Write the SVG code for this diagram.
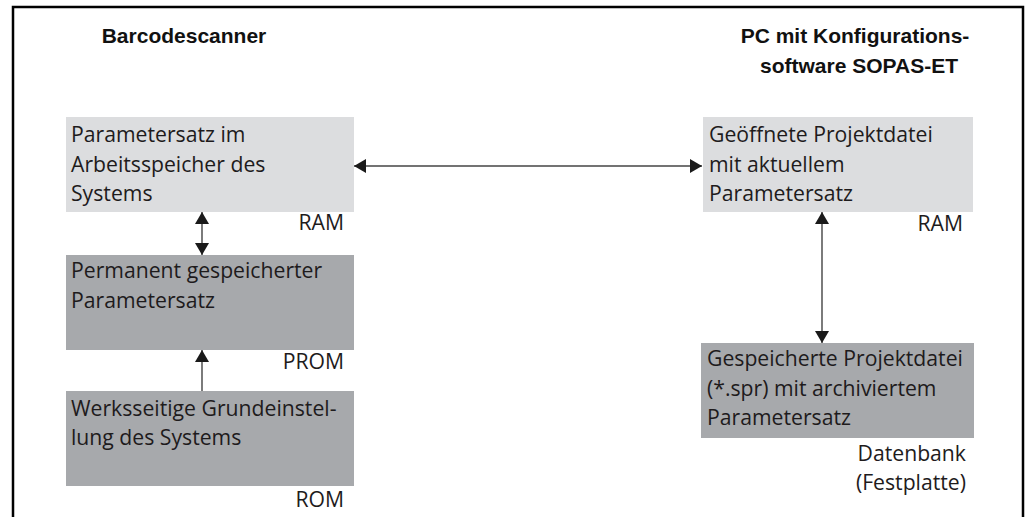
<svg xmlns="http://www.w3.org/2000/svg" width="1028" height="517" viewBox="0 0 1028 517">
  <style>
    .light { fill: #dcdddf; }
    .dark { fill: #a7a9ac; }
    .t { font-family: "Open Sans", "Noto Sans", sans-serif; font-size: 21.2px; fill: #1e1b1c; }
    .end { text-anchor: end; }
    .h { font-family: "Liberation Sans", Arial, sans-serif; font-size: 21px; font-weight: bold; fill: #111; text-anchor: middle; }
    .conn { stroke: #444; stroke-width: 1.4; fill: none; }
  </style>
  <defs>
    <marker id="ah" markerUnits="userSpaceOnUse" markerWidth="12" markerHeight="14" refX="12" refY="7" orient="auto-start-reverse" viewBox="0 0 12 14">
      <path d="M0,0 L12,7 L0,14 z" fill="#1a1a1a"/>
    </marker>
  </defs>
  <rect width="1028" height="517" fill="#fff"/>
  <path d="M13,517 V7 H1023 V517" fill="none" stroke="#000" stroke-width="2.5"/>

  <g id="header-left">
    <text class="h" x="184" y="43">Barcodescanner</text>
  </g>
  <g id="header-right">
    <text class="h" x="855" y="43">PC mit Konfigurations-</text>
    <text class="h" x="859" y="73">software SOPAS-ET</text>
  </g>

  <g id="ram-left">
    <rect class="light" x="66" y="117" width="288" height="95"/>
    <text class="t" x="71" y="142">Parametersatz im</text>
    <text class="t" x="71" y="171.5">Arbeitsspeicher des</text>
    <text class="t" x="71" y="201">Systems</text>
    <text class="t end" x="344" y="230">RAM</text>
  </g>
  <g id="prom">
    <rect class="dark" x="66" y="255" width="288" height="95"/>
    <text class="t" x="71" y="278">Permanent gespeicherter</text>
    <text class="t" x="71" y="308">Parametersatz</text>
    <text class="t end" x="344" y="369">PROM</text>
  </g>
  <g id="rom">
    <rect class="dark" x="66" y="391" width="288" height="95"/>
    <text class="t" x="71" y="416">Werksseitige Grundeinstel-</text>
    <text class="t" x="71" y="445">lung des Systems</text>
    <text class="t end" x="344" y="507">ROM</text>
  </g>
  <g id="ram-right">
    <rect class="light" x="703" y="117" width="270" height="95"/>
    <text class="t" x="709" y="142">Geöffnete Projektdatei</text>
    <text class="t" x="709" y="171.5">mit aktuellem</text>
    <text class="t" x="709" y="201">Parametersatz</text>
    <text class="t end" x="963" y="231">RAM</text>
  </g>
  <g id="database">
    <rect class="dark" x="701" y="343" width="273" height="95"/>
    <text class="t" x="707" y="366">Gespeicherte Projektdatei</text>
    <text class="t" x="707" y="396">(*.spr) mit archiviertem</text>
    <text class="t" x="707" y="425">Parametersatz</text>
    <text class="t end" x="966" y="461">Datenbank</text>
    <text class="t end" x="966" y="490">(Festplatte)</text>
  </g>

  <g id="connectors">
    <line class="conn" x1="354" y1="166" x2="702" y2="166" marker-start="url(#ah)" marker-end="url(#ah)"/>
    <line class="conn" x1="202" y1="212" x2="202" y2="255" marker-start="url(#ah)" marker-end="url(#ah)"/>
    <line class="conn" x1="202" y1="391" x2="202" y2="350" marker-end="url(#ah)"/>
    <line class="conn" x1="822" y1="212" x2="822" y2="343" marker-start="url(#ah)" marker-end="url(#ah)"/>
  </g>
</svg>
